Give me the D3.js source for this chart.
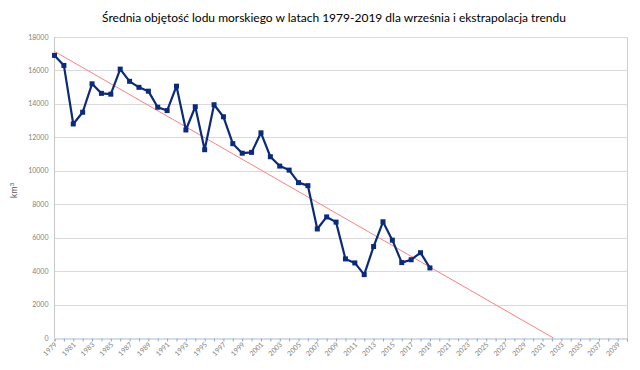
<!DOCTYPE html>
<html lang="pl">
  <head>
    <meta charset="utf-8">
    <title>Objętość lodu morskiego</title>
    <script src="https://d3js.org/d3.v7.min.js"></script>
    <style>
      body { margin: 0; background: #fff; }
    </style>
  </head>
<body>

<script>
// wartości (km3, wrzesień)
var years = d3.range(1979, 2020);
var volume = [16900, 16300, 12800, 13500, 15200, 14630, 14580, 16080, 15350, 14990,
              14760, 13800, 13600, 15060, 12440, 13830, 11260, 13950, 13230, 11620,
              11050, 11100, 12270, 10840, 10280, 10040, 9290, 9110, 6520, 7240,
              6930, 4730, 4490, 3790, 5470, 6950, 5850, 4510, 4680, 5100, 4190];
var yTicks = [0, 2000, 4000, 6000, 8000, 10000, 12000, 14000, 16000, 18000];
var xLabels = d3.range(1979, 2041, 2);

var width = 640, height = 370;
var margin = {top: 37, right: 13, bottom: 32, left: 54.5};

var svg = d3.select("body")
    .append("svg")
    .attr("width", width)
    .attr("height", height)
    .style("font-family", "Lato, 'Liberation Sans', sans-serif");

var x = d3.scaleLinear()
    .domain([1979, 2040])
    .range([margin.left, width - margin.right]);

var y = d3.scaleLinear()
    .domain([0, 18000])
    .range([height - margin.bottom, margin.top]);

// siatka
svg.append("g")
    .selectAll("line")
    .data(yTicks.slice(1))
    .join("line")
    .attr("x1", margin.left)
    .attr("x2", width - margin.right)
    .attr("y1", d => Math.round(y(d)) + 0.5)
    .attr("y2", d => Math.round(y(d)) + 0.5)
    .attr("stroke", "#d9d9d9")
    .attr("stroke-width", 1);

// ramka: lewa i prawa
svg.append("line")
    .attr("x1", margin.left).attr("x2", margin.left)
    .attr("y1", y(18000)).attr("y2", y(0))
    .attr("stroke", "#c8c8c8");
svg.append("line")
    .attr("x1", width - margin.right + 0.5).attr("x2", width - margin.right + 0.5)
    .attr("y1", y(18000)).attr("y2", y(0))
    .attr("stroke", "#d0d0d0");

// oś Y
svg.append("g")
    .selectAll("text")
    .data(yTicks)
    .join("text")
    .attr("x", margin.left - 6)
    .attr("y", d => y(d) + 2.5)
    .attr("text-anchor", "end")
    .attr("font-size", 7)
    .attr("fill", "#7f7f7f")
    .text(d => d);

// oś X
var xAxis = svg.append("g")
    .attr("transform", `translate(0,${Math.round(y(0)) + 0.5})`)
    .call(d3.axisBottom(x)
        .tickValues(d3.range(1979, 2041))
        .tickSize(3)
        .tickFormat(""));
xAxis.select(".domain").attr("stroke", "#a8bcd6");
xAxis.selectAll(".tick line").attr("stroke", "#8fa8cc");

svg.append("g")
    .selectAll("text")
    .data(xLabels)
    .join("text")
    .attr("transform", d => `translate(${x(d) + 3},${y(0) + 7}) rotate(-45)`)
    .attr("text-anchor", "end")
    .attr("font-size", 7)
    .attr("fill", "#7f7f7f")
    .text(d => d);

// trend liniowy (regresja z danych), przedłużony do zera
var mx = d3.mean(years), my = d3.mean(volume);
var slope = d3.sum(years, (t, i) => (t - mx) * (volume[i] - my)) /
            d3.sum(years, t => (t - mx) * (t - mx));
var icpt = my - slope * mx;
var xZero = -icpt / slope;

svg.append("line")
    .attr("x1", x(1979))
    .attr("y1", y(icpt + slope * 1979))
    .attr("x2", x(xZero))
    .attr("y2", y(0))
    .attr("stroke", "#ff8080")
    .attr("stroke-width", 1);

// seria
var line = d3.line()
    .x((d, i) => x(years[i]))
    .y(d => y(d));

svg.append("path")
    .datum(volume)
    .attr("d", line)
    .attr("fill", "none")
    .attr("stroke", "#0b2a7a")
    .attr("stroke-width", 2.2)
    .attr("stroke-linejoin", "round");

svg.append("g")
    .selectAll("rect")
    .data(volume)
    .join("rect")
    .attr("x", (d, i) => x(years[i]) - 2.5)
    .attr("y", d => y(d) - 2.5)
    .attr("width", 5)
    .attr("height", 5)
    .attr("fill", "#0b2a7a");

// tytuł
svg.append("text")
    .attr("x", 334)
    .attr("y", 22)
    .attr("text-anchor", "middle")
    .attr("font-size", 12)
    .attr("fill", "#000")
    .text("Średnia objętość lodu morskiego w latach 1979-2019 dla września i ekstrapolacja trendu");

// etykieta osi Y
svg.append("text")
    .attr("transform", `translate(17,${(y(0) + y(18000)) / 2 + 3}) rotate(-90)`)
    .attr("text-anchor", "middle")
    .attr("font-size", 9)
    .attr("fill", "#595959")
    .html("km<tspan dy='-3' font-size='6'>3</tspan>");
</script>
</body>
</html>
